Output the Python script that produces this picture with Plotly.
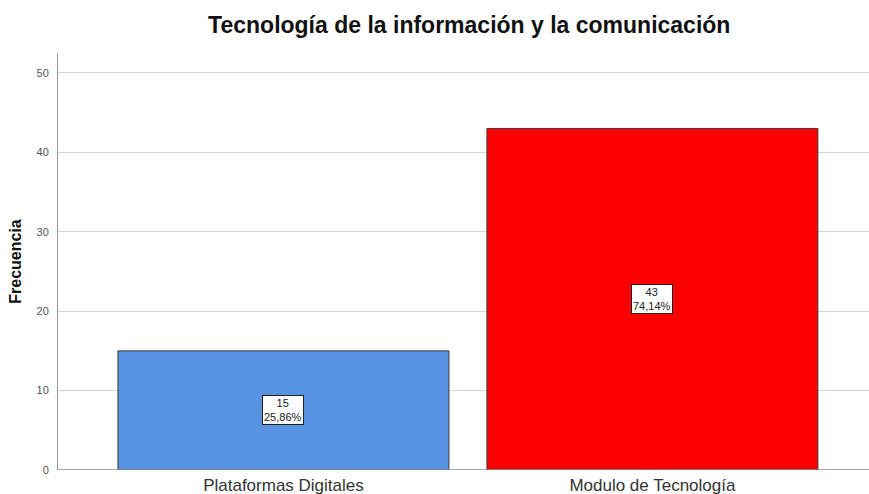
import plotly.graph_objects as go

categories = ["Plataformas Digitales", "Modulo de Tecnología"]
counts = [15, 43]
percents = ["25,86%", "74,14%"]
colors = ["#5893E1", "#FF0000"]
ytick_vals = [0, 10, 20, 30, 40, 50]

xpos = list(range(len(categories)))
FONT = "Arial, Liberation Sans, sans-serif"

fig = go.Figure()
fig.add_trace(go.Bar(
    x=xpos, y=counts, width=0.897,
    marker=dict(color=colors, line=dict(color="#3a3a3a", width=1)),
    hoverinfo="skip", showlegend=False,
))

for xi, c, p in zip(xpos, counts, percents):
    fig.add_annotation(
        x=xi, y=c / 2, xref="x", yref="y",
        text=f"{c}<br>{p}", showarrow=False,
        font=dict(family=FONT, size=11, color="#222"),
        bgcolor="white", bordercolor="#222", borderwidth=1, borderpad=1,
    )

fig.update_layout(
    width=869, height=494,
    margin=dict(l=58, r=0, t=53, b=24),
    paper_bgcolor="white", plot_bgcolor="white",
    title=dict(text="<b>Tecnología de la información y la comunicación</b>",
               x=0.54, xanchor="center", y=0.95, yanchor="middle",
               font=dict(family=FONT, size=23, color="#111")),
    xaxis=dict(
        range=[-0.611, 1.587], tickvals=xpos, ticktext=categories,
        showgrid=False, zeroline=False, showline=False, ticks="",
        ticklabelstandoff=3, automargin=False,
        tickfont=dict(family=FONT, size=17, color="#333"),
        fixedrange=True,
    ),
    yaxis=dict(
        range=[0, 52.5], tickvals=ytick_vals,
        showgrid=True, gridcolor="#d4d4d4", gridwidth=1,
        zeroline=False, showline=True, linecolor="#999", linewidth=1,
        ticks="", ticklabelstandoff=6, automargin=False,
        tickfont=dict(family=FONT, size=11, color="#555"),
        title=dict(text="<b>Frecuencia</b>", standoff=10,
                   font=dict(family=FONT, size=16, color="#111")),
    ),
)
fig.add_hline(y=0, line=dict(color="#888", width=1.5), layer="above")

fig.write_html("out.html")
